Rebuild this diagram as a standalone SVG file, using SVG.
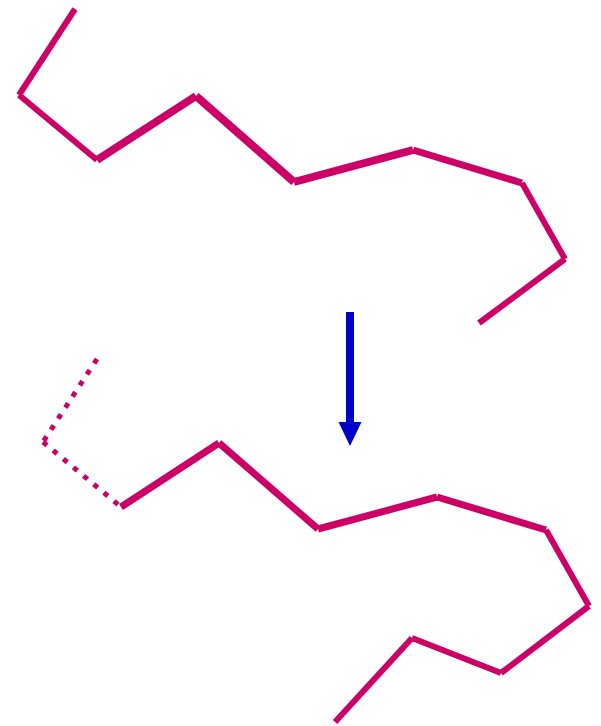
<svg xmlns="http://www.w3.org/2000/svg" width="601" height="726" viewBox="0 0 601 726">
<style>
.c line{stroke:#cc0066;stroke-linecap:butt;fill:none}
.w5{stroke-width:5}
.w6{stroke-width:6}
.w7{stroke-width:7}
.w8{stroke-width:8}
.dot{stroke-dasharray:5.2 8}
</style>
<rect width="601" height="726" fill="#fff"/>
<g id="chain-top" class="c">
<line class="w6" x1="75" y1="9" x2="19" y2="95"/>
<line class="w6" x1="19" y1="95" x2="97" y2="160"/>
<line class="w8" x1="97" y1="160" x2="196" y2="96"/>
<line class="w8" x1="196" y1="96" x2="294" y2="182"/>
<line class="w8" x1="294" y1="182" x2="413" y2="150"/>
<line class="w7" x1="413" y1="150" x2="522" y2="183"/>
<line class="w6" x1="522" y1="183" x2="565" y2="259"/>
<line class="w6" x1="565" y1="259" x2="479" y2="323"/>
</g>
<g id="chain-bottom" class="c">
<line class="w5 dot" x1="97" y1="359" x2="43" y2="442"/>
<line class="w5 dot" x1="43" y1="442" x2="121" y2="507"/>
<line class="w7" x1="121" y1="507" x2="219" y2="443"/>
<line class="w7" x1="219" y1="443" x2="318" y2="529"/>
<line class="w7" x1="318" y1="529" x2="437" y2="497"/>
<line class="w7" x1="437" y1="497" x2="546" y2="530"/>
<line class="w6" x1="546" y1="530" x2="589" y2="606"/>
<line class="w6" x1="589" y1="606" x2="501" y2="673"/>
<line class="w6" x1="501" y1="673" x2="412" y2="638"/>
<line class="w6" x1="412" y1="638" x2="335" y2="722"/>
</g>
<g id="connectors">
<line x1="350" y1="312" x2="350" y2="424" stroke="#0000cc" stroke-width="8"/>
<polygon points="338.5,422 361.5,422 350,446" fill="#0000cc"/>
</g>
</svg>
